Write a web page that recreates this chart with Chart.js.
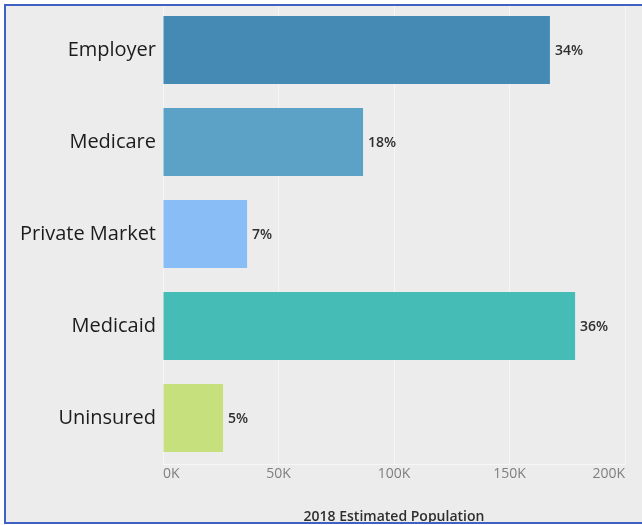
<!DOCTYPE html>
<html>
<head>
<meta charset="utf-8">
<script src="https://cdn.jsdelivr.net/npm/chart.js@4/dist/chart.umd.min.js"></script>
<style>
  html, body { margin: 0; padding: 0; background: #ffffff; overflow: hidden; }
  #wrap { position: relative; width: 642px; height: 525px; overflow: hidden; }
  #bg { position: absolute; left: 4px; top: 4px; width: 638px; height: 518px; background: #ececec; }
  #frame {
    position: absolute; left: 4px; top: 4px; width: 636px; height: 516px;
    border-left: 2px solid #3f62c2; border-top: 2px solid #3f62c2; border-bottom: 2px solid #3f62c2;
    pointer-events: none;
  }
  #grafica { position: absolute; left: 0; top: 0; }
</style>
</head>
<body>
<div id="wrap">
  <div id="bg"></div>
  <canvas id="grafica" width="642" height="525"></canvas>
  <div id="frame"></div>
</div>
<script>
'use strict';

// Categorías y valores
const CATEGORIAS = ['Employer', 'Medicare', 'Private Market', 'Medicaid', 'Uninsured'];
const POBLACION  = [167500, 86600, 36400, 178400, 26000];
const PORCENTAJE = ['34%', '18%', '7%', '36%', '5%'];
const COLORES    = ['#448ab4', '#5ca1c6', '#88bef5', '#46bcb6', '#c5e07d'];
const TICKS_X    = [0, 50000, 100000, 150000, 200000];

const FUENTE = "'Open Sans', 'Noto Sans', sans-serif";

// Etiquetas de porcentaje al final de cada barra
const etiquetasPct = {
  id: 'etiquetasPct',
  afterDatasetsDraw(chart) {
    const ctx = chart.ctx;
    const meta = chart.getDatasetMeta(0);
    ctx.save();
    ctx.font = '600 14px ' + FUENTE;
    ctx.fillStyle = '#2e2e2e';
    ctx.textAlign = 'left';
    ctx.textBaseline = 'middle';
    meta.data.forEach((bar, i) => {
      ctx.fillText(PORCENTAJE[i], bar.x + 5, bar.y + 1);
    });
    ctx.restore();
  }
};

new Chart(document.getElementById('grafica').getContext('2d'), {
  type: 'bar',
  data: {
    labels: CATEGORIAS,
    datasets: [{
      data: POBLACION,
      backgroundColor: COLORES,
      borderWidth: 0,
      barPercentage: 0.74,
      categoryPercentage: 1.0
    }]
  },
  options: {
    indexAxis: 'y',
    responsive: false,
    animation: false,
    events: [],
    layout: { padding: { top: 4, right: 17, left: 0, bottom: 0 } },
    plugins: {
      legend: { display: false },
      tooltip: { enabled: false }
    },
    scales: {
      x: {
        min: 0,
        max: 200000,
        afterBuildTicks: (scale) => { scale.ticks = TICKS_X.map(v => ({ value: v })); },
        afterFit: (scale) => { scale.height = 61; },
        ticks: {
          color: '#7f7f7f',
          font: { family: FUENTE, size: 14 },
          padding: 2,
          align: 'inner',
          callback: (v) => (v / 1000) + 'K'
        },
        grid: { color: '#f6f6f6', lineWidth: 1, drawTicks: false },
        border: { color: '#f6f6f6' },
        title: {
          display: true,
          text: '2018 Estimated Population',
          color: '#2e2e2e',
          font: { family: FUENTE, size: 14, weight: '600' },
          padding: { top: 9, bottom: 0 }
        }
      },
      y: {
        afterFit: (scale) => {
          scale.width = 163;
          scale.paddingTop = 0;
          scale.paddingBottom = 0;
        },
        ticks: {
          color: '#1c1c1c',
          font: { family: FUENTE, size: 20 },
          padding: 7
        },
        grid: { display: false, drawTicks: false },
        border: { color: '#f6f6f6' }
      }
    }
  },
  plugins: [etiquetasPct]
});
</script>
</body>
</html>
